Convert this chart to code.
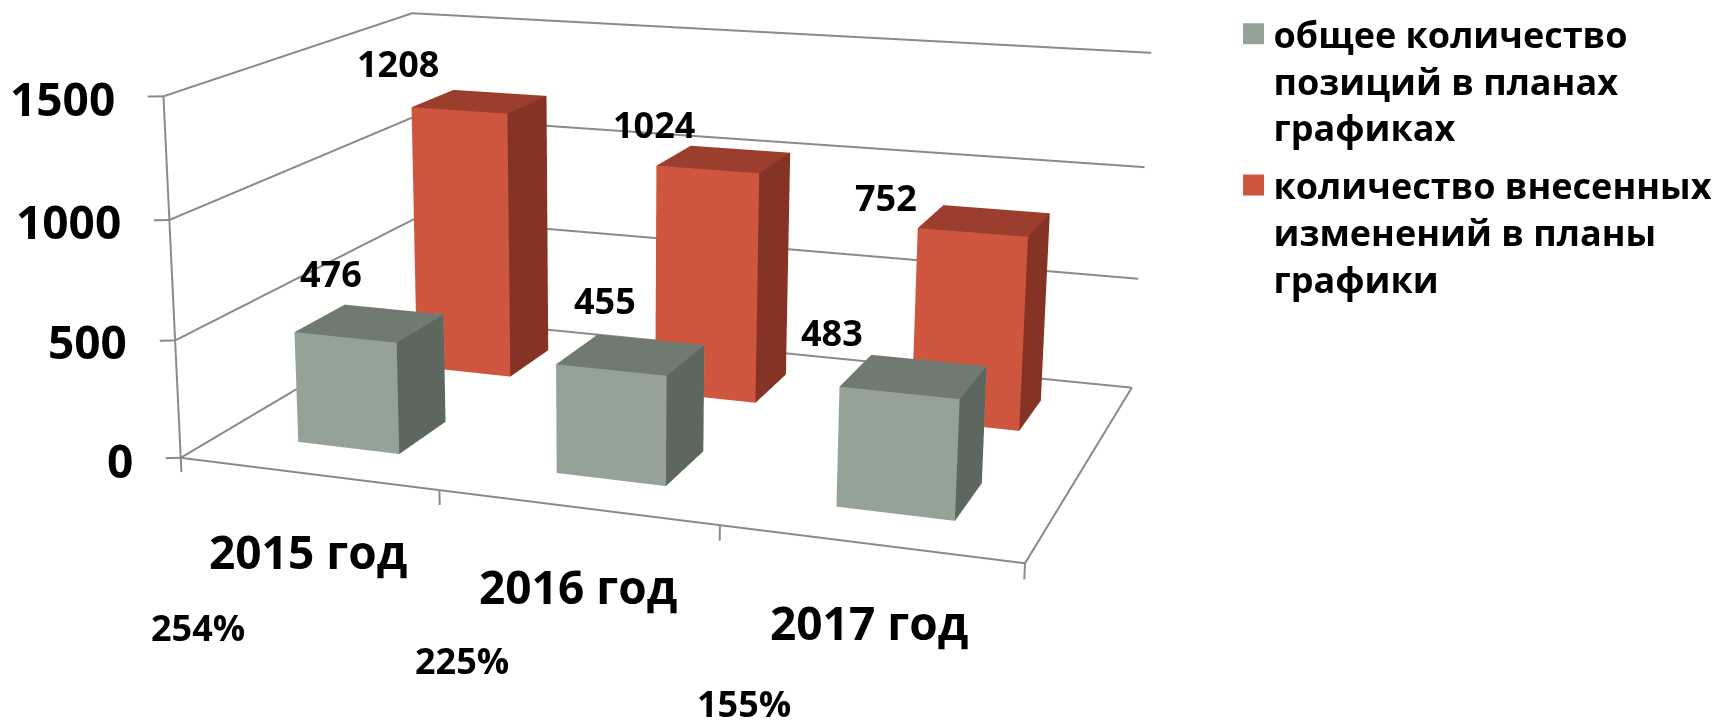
import numpy as np, plotly.graph_objects as go

categories = ["2015 год", "2016 год", "2017 год"]
series_names = ["общее количество<br>позиций в планах<br>графиках",
                "количество внесенных<br>изменений в планы<br>графики"]
total = [476, 455, 483]
changed_labels = [1208, 1024, 752]
# the third red column is drawn taller in the picture than its printed label says
changed_heights = [1208, 1024, 840]
percent = ["254%", "225%", "155%"]
z_ticks = [0, 500, 1000, 1500]

# text placement in page pixels (centre of each label)
tick_right = [(134.7, 460.3), (129.4, 341.7), (122.5, 221.7), (116.7, 98)]
cat_xy = [(308, 551), (577.5, 586), (868.6, 622)]
pct_xy = [(198, 628), (461.5, 660.5), (744, 704)]
total_xy = [(331, 273.5), (605, 301), (832, 333)]
changed_xy = [(398, 64), (654, 125), (885.5, 197.5)]

# camera recovered from the picture's box corners
rv = np.array([0.0072, 0.0081, -0.0028])
Tr = np.array([-1.0387, -0.3126, 7.0022])
A = np.array([2.3203, 1.5721, 1.0])
F, PX, PY = 2560.1188, 560.4071, 343.7047
N = np.array([3, 1, 1500.0])

def rod(v):
    t = np.linalg.norm(v)
    k = v / t
    K = np.array([[0, -k[2], k[1]], [k[2], 0, -k[0]], [-k[1], k[0], 0]])
    return np.eye(3) + np.sin(t) * K + (1 - np.cos(t)) * K @ K

C0 = np.array([[.935, .357, -.005], [-.094, .264, .96], [-.344, .90, -.277]])
U, _, Vt = np.linalg.svd(C0)
R = rod(rv) @ (U @ Vt)

def project(x, y, z):
    c = R @ (np.array([x, y, z]) / N * A) + Tr
    return PX + F * c[0] / c[2], PY - F * c[1] / c[2]

H = 2 * F / 2.41421356
W = 2 * (1815 - PX)
left = PX - W / 2
top = PY - H / 2
lo = np.array([-1., -1., -500.])
hi = np.array([4., 2., 2000.])
mid = (lo + hi) / 2
a = A * (hi - lo) / N
eye = -R.T @ Tr - A * mid / N
fw = R.T @ np.array([0, 0, 1.])
up = R.T @ np.array([0, 1., 0])
center = eye + fw * np.linalg.norm(eye)

GREY = ("#94A298", "#5E675F", "#707A70")
RED = ("#CE553E", "#843325", "#9C3E2E")
BAR_X = (0.307, 0.707)
GREY_Y = (0.152, 0.352)
RED_Y = (0.66, 0.858)

fig = go.Figure()

def box(cat, ys, z, cs, name):
    x0, x1 = cat + BAR_X[0], cat + BAR_X[1]
    y0, y1 = ys
    xx = [x0, x1, x1, x0, x0, x1, x1, x0]
    yy = [y0, y0, y1, y1, y0, y0, y1, y1]
    zz = [0, 0, 0, 0, z, z, z, z]
    i = [0, 0, 1, 1, 4, 4, 0, 0, 2, 2, 3, 3]
    j = [1, 5, 2, 6, 5, 6, 3, 7, 3, 7, 0, 4]
    k = [5, 4, 6, 5, 6, 7, 7, 4, 7, 6, 4, 7]
    fc = [cs[0]] * 2 + [cs[1]] * 2 + [cs[2]] * 2 + [cs[0]] * 6
    fig.add_trace(go.Mesh3d(x=xx, y=yy, z=zz, i=i, j=j, k=k, facecolor=fc, flatshading=True,
                            name=name, showscale=False, hoverinfo="skip",
                            lighting=dict(ambient=1, diffuse=0, specular=0, fresnel=0, roughness=1)))

for n, cat in enumerate(categories):
    box(n, GREY_Y, total[n], GREY, cat)
    box(n, RED_Y, changed_heights[n], RED, cat)

lx, ly, lz = [], [], []
def seg(*pts):
    for q in pts:
        lx.append(q[0]); ly.append(q[1]); lz.append(q[2])
    lx.append(None); ly.append(None); lz.append(None)

for t in z_ticks:
    seg((-.0483, -.0108, t), (0, 0, t), (0, 1, t), (3, 1, t))
seg((3, 0, 0), (3, 1, 0))
seg((0, 0, 0), (3, 0, 0))
seg((0, 0, 0), (0, 0, z_ticks[-1]))
for i in range(len(categories) + 1):
    seg((i, 0, 0), (i, 0, -62))
fig.add_trace(go.Scatter3d(x=lx, y=ly, z=lz, mode="lines", line=dict(color="#8A8A8A", width=4),
                           showlegend=False, hoverinfo="skip"))

# legend entries: one point hidden inside a column of each series
for name, col, ys, h in ((series_names[0], GREY[0], GREY_Y, total[0]), (series_names[1], RED[0], RED_Y, changed_heights[0])):
    fig.add_trace(go.Scatter3d(x=[.5], y=[sum(ys) / 2], z=[h / 2], mode="markers", name=name, legendgroup=name,
                               marker=dict(symbol="square", size=16, color=col, line=dict(color=col, width=5)),
                               hoverinfo="skip"))

def note(x, y, z, px, py, text, size, anchor="center"):
    u, v = project(x, y, z)
    return dict(x=x, y=y, z=z, text=text, showarrow=False, xanchor=anchor, yanchor="middle",
                xshift=px - u, yshift=v - py,
                font=dict(family="Open Sans", size=size, color="black", weight=700))

notes = []
for t, (px, py) in zip(z_ticks, tick_right):
    notes.append(note(0, 0, t, px, py, str(t), 46, "right"))
for n in range(3):
    notes.append(note(n + .5, 0, 0, *cat_xy[n], categories[n], 46))
    notes.append(note(n + .5, 0, 0, *pct_xy[n], percent[n], 36))
    notes.append(note(n + .5, sum(GREY_Y) / 2, total[n], *total_xy[n], str(total[n]), 36))
    notes.append(note(n + .5, sum(RED_Y) / 2, changed_heights[n], *changed_xy[n], str(changed_labels[n]), 36))

fig.update_layout(
    width=W, height=H, margin=dict(l=0, r=0, t=0, b=0), paper_bgcolor="white",
    legend=dict(x=(1233.5 - left) / W, y=1 - (4 - top) / H, xanchor="left", yanchor="top",
                traceorder="grouped", tracegroupgap=8, itemsizing="trace", valign="top",
                font=dict(family="Open Sans", size=36, color="black", weight=700),
                bgcolor="rgba(0,0,0,0)"),
    scene=dict(domain=dict(x=[0, 1], y=[0, 1]), aspectmode="manual",
               aspectratio=dict(x=a[0], y=a[1], z=a[2]),
               camera=dict(eye=dict(x=eye[0], y=eye[1], z=eye[2]),
                           center=dict(x=center[0], y=center[1], z=center[2]),
                           up=dict(x=up[0], y=up[1], z=up[2])),
               xaxis=dict(visible=False, range=[lo[0], hi[0]]),
               yaxis=dict(visible=False, range=[lo[1], hi[1]]),
               zaxis=dict(visible=False, range=[lo[2], hi[2]]),
               annotations=notes))
post = ("document.documentElement.style.overflow='hidden';document.body.style.margin='0';"
        "document.body.style.overflow='hidden';var g=document.getElementById('{plot_id}');"
        f"g.style.position='absolute';g.style.left='{left}px';g.style.top='{top}px';")
fig.write_html("out.html", post_script=post)
